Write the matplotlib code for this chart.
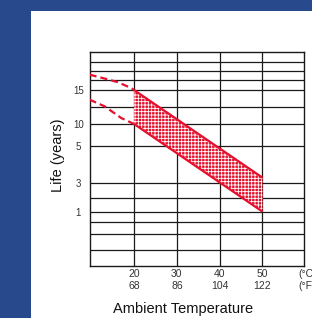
import numpy as np
import matplotlib
matplotlib.use('Agg')
import matplotlib.pyplot as plt
from matplotlib.patches import Rectangle

plt.rcParams['font.family'] = ['Liberation Sans', 'DejaVu Sans']

# Temperature axis (°C with °F equivalents)
temp_c = [20, 30, 40, 50]
temp_f = [68, 86, 104, 122]

# Life axis: labels and their vertical position (0 = bottom, 100 = top of grid)
life_labels = ['15', '10', '5', '3', '1']
life_pos = [82.2, 66.3, 56.2, 38.6, 25.3]
grid_pos = [95.5, 91.1, 86.8, 82.2, 74.4, 66.3, 56.2, 38.6, 31.8, 25.3, 20.6, 14.7, 7.5]

# Service life band (solid part)
band_x = [20, 50]
band_upper = [82.2, 41.2]
band_lower = [66.3, 25.3]

# Extrapolated dashed parts below 20 °C
dash_x_upper = [9.6, 12.7, 16.2, 19.35, 20]
dash_upper = [89.4, 87.8, 85.9, 83.1, 82.2]
dash_x_lower = [9.6, 13.1, 17.0, 20]
dash_lower = [77.7, 74.6, 69.1, 66.3]

red = '#e5102d'
blue = '#284a8c'

fig = plt.figure(figsize=(3.12, 3.18), dpi=100, facecolor=blue)
fig.patches.append(Rectangle((31 / 312, 0), 1, 307 / 318, transform=fig.transFigure,
                             facecolor='white', edgecolor='none', zorder=-10))

ax = fig.add_axes([90 / 312, 52.3 / 318, 214 / 312, 213.7 / 318])
ax.set_xlim(9.7, 59.7)
ax.set_ylim(0, 100)

# grid
for y in grid_pos:
    ax.axhline(y, color='#1a1a1a', lw=0.9, zorder=1)
for x in temp_c:
    ax.axvline(x, color='#1a1a1a', lw=0.9, zorder=1)
for s in ax.spines.values():
    s.set_color('#1a1a1a')
    s.set_linewidth(1.0)

# stippled band
plt.rcParams['hatch.linewidth'] = 0.6
x = np.array(band_x)
ax.fill_between(x, band_lower, band_upper, facecolor=red, edgecolor='white',
                hatch='+++++', linewidth=0, zorder=2)
ax.plot(band_x, band_upper, color=red, lw=1.6, zorder=3, solid_capstyle='butt')
ax.plot(band_x, band_lower, color=red, lw=1.6, zorder=3, solid_capstyle='butt')
ax.plot(dash_x_upper, dash_upper, color=red, lw=1.6, dashes=(3.2, 1.8), zorder=3)
ax.plot(dash_x_lower, dash_lower, color=red, lw=1.6, dashes=(3.2, 1.8), zorder=3)

# ticks
ax.set_yticks(life_pos, life_labels)
ax.set_xticks(temp_c, [f'{c}\n{f}' for c, f in zip(temp_c, temp_f)])
ax.tick_params(axis='y', length=0, pad=8.5, labelsize=7, colors='#333333')
ax.tick_params(axis='x', length=0, pad=2.5, labelsize=7.5, colors='#333333')
for lab in ax.get_yticklabels():
    lab.set_horizontalalignment('center')
for lab in ax.get_xticklabels():
    lab.set_linespacing(1.25)

ax.annotate('(°C\n(°F', xy=(58.3, 0), xycoords=('data', 'axes fraction'),
            xytext=(0, -2.5), textcoords='offset points', ha='left', va='top',
            fontsize=7.5, color='#333333', linespacing=1.25, annotation_clip=False)

fig.text(58 / 312, 1 - 155 / 318, 'Life (years)', rotation=90, ha='center', va='center',
         fontsize=10.5, color='#111111')
fig.text(183 / 312, 1 - 309 / 318, 'Ambient Temperature', ha='center', va='center',
         fontsize=10.5, color='#111111')

fig.savefig('out.png', dpi=100, facecolor=blue)
